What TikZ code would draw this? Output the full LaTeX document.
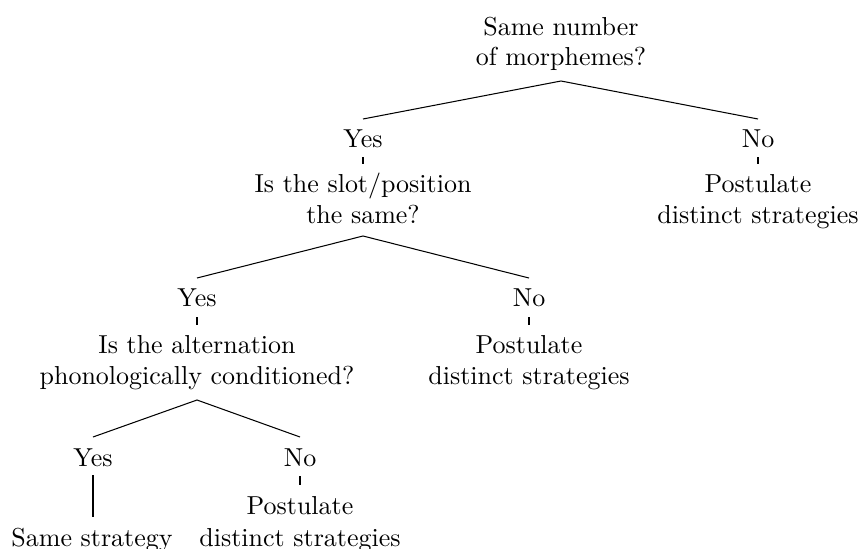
\documentclass[tikz,border=0pt]{standalone}
\begin{document}
\begin{tikzpicture}[x=0.385pt,y=-0.385pt,
  lbl/.style={inner sep=0pt,anchor=base,font=\fontsize{10}{12}\selectfont},
  edge/.style={line width=0.4pt}]
\useasboundingbox (0,0) rectangle (863,548);
% root
\node[lbl] (r1) at (561,35) {Same number};
\node[lbl] (r2) at (561,65) {of morphemes?};
\coordinate (rs) at (561,81);
% level 1
\node[lbl] (y1) at (363,147) {Yes};
\coordinate (y1n) at (363,119);
\coordinate (y1s) at (363,157);
\coordinate (q2n) at (363,164);
\node[lbl] (q2a) at (363,192) {Is the slot/position};
\node[lbl] (q2b) at (363,223) {the same?};
\coordinate (q2s) at (363,236);
\node[lbl] (n1) at (758,147) {No};
\coordinate (n1n) at (758,119);
\coordinate (n1s) at (758,157);
\coordinate (p1n) at (758,164);
\node[lbl] (p1a) at (758,192) {Postulate};
\node[lbl] (p1b) at (758,223) {distinct strategies};
% level 2
\node[lbl] (y2) at (197,306) {Yes};
\coordinate (y2n) at (197,278);
\coordinate (y2s) at (197,317);
\coordinate (q3n) at (197,325);
\node[lbl] (q3a) at (197,353) {Is the alternation};
\node[lbl] (q3b) at (197,384) {phonologically conditioned?};
\coordinate (q3s) at (197,400);
\node[lbl] (n2) at (529,306) {No};
\coordinate (n2n) at (529,278);
\coordinate (n2s) at (529,317);
\coordinate (p2n) at (529,325);
\node[lbl] (p2a) at (529,353) {Postulate};
\node[lbl] (p2b) at (529,384) {distinct strategies};
% level 3
\node[lbl] (y3) at (93,466) {Yes};
\coordinate (y3n) at (93,437);
\coordinate (y3s) at (93,475);
\coordinate (sn) at (93,517);
\node[lbl] (s) at (92,546) {Same strategy};
\node[lbl] (n3) at (300,466) {No};
\coordinate (n3n) at (300,437);
\coordinate (n3s) at (300,476);
\coordinate (p3n) at (300,485);
\node[lbl] (p3a) at (300,514) {Postulate};
\node[lbl] (p3b) at (300,546) {distinct strategies};
% edges
\draw[edge] (y1n) -- (rs) -- (n1n);
\draw[edge] (y1s) -- (q2n);
\draw[edge] (n1s) -- (p1n);
\draw[edge] (y2n) -- (q2s) -- (n2n);
\draw[edge] (y2s) -- (q3n);
\draw[edge] (n2s) -- (p2n);
\draw[edge] (y3n) -- (q3s) -- (n3n);
\draw[edge] (y3s) -- (sn);
\draw[edge] (n3s) -- (p3n);
\end{tikzpicture}
\end{document}
